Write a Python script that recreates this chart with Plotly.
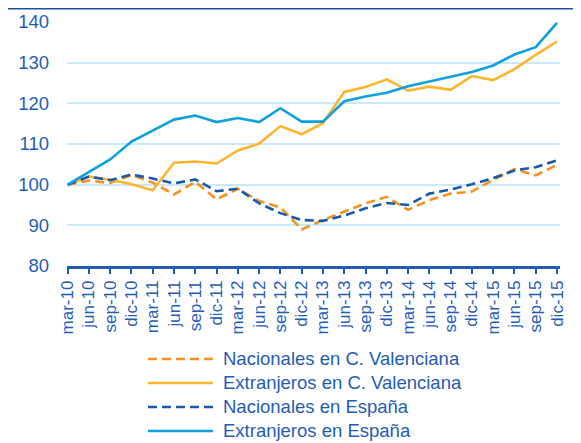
import plotly.graph_objects as go

years = ["10", "11", "12", "13", "14", "15"]
months = ["mar", "jun", "sep", "dic"]
periods = [f"{m}-{y}" for y in years for m in months]

nac_cv = [100, 101.0, 100.4, 102.4, 100.5, 97.6, 100.7, 96.4, 99.0, 96.0, 94.4, 89.0,
          91.3, 93.4, 95.4, 97.0, 93.8, 96.2, 97.8, 98.3, 101.2, 103.8, 102.3, 104.9]
ext_cv = [100, 102.0, 101.2, 100.1, 98.6, 105.4, 105.7, 105.2, 108.4, 110.1, 114.4, 112.4,
          115.1, 122.8, 124.0, 125.9, 123.1, 124.1, 123.3, 126.7, 125.7, 128.4, 131.9, 135.2]
nac_es = [100, 102.0, 101.1, 102.5, 101.5, 100.3, 101.3, 98.4, 99.0, 95.4, 93.0, 91.3,
          91.1, 92.4, 94.2, 95.5, 95.0, 97.8, 98.8, 100.1, 101.6, 103.5, 104.3, 106.0]
ext_es = [100, 103.1, 106.2, 110.6, 113.2, 116.0, 117.0, 115.4, 116.4, 115.4, 118.8, 115.5,
          115.5, 120.5, 121.7, 122.6, 124.2, 125.4, 126.6, 127.7, 129.3, 132.0, 133.8, 139.8]

series_names = ["Nacionales en C. Valenciana", "Extranjeros en C. Valenciana",
                "Nacionales en España", "Extranjeros en España"]
series_vals = [nac_cv, ext_cv, nac_es, ext_es]
series_colors = ["#F7901E", "#FDB52D", "#155AAD", "#0EA0DF"]
series_dash = ["9px,5px", "solid", "9px,5px", "solid"]

y_ticks = [80, 90, 100, 110, 120, 130, 140]

text_color = "#1F5CB8"
font_family = "Liberation Sans, Arial, sans-serif"

fig = go.Figure()
for name, vals, col, dash in zip(series_names, series_vals, series_colors, series_dash):
    fig.add_trace(go.Scatter(
        x=periods, y=vals, mode="lines", name=name,
        line=dict(color=col, width=2.6, dash=dash),
        showlegend=False,
    ))

fig.update_layout(
    width=573, height=435,
    margin=dict(l=59, r=21, t=14, b=177, autoexpand=False),
    paper_bgcolor="white", plot_bgcolor="white",
    font=dict(family=font_family, color=text_color, size=18),
    showlegend=False,
    xaxis=dict(
        type="category", categoryorder="array", categoryarray=periods,
        tickmode="array", tickvals=periods, ticktext=periods,
        range=[-0.03, 23.14], automargin=False,
        tickangle=-90, showgrid=False,
        showline=True, linecolor="#1F5CB8", linewidth=2.5,
        ticks="outside", ticklen=5, tickwidth=2, tickcolor="#1F5CB8",
        tickfont=dict(size=17, color=text_color),
        zeroline=False,
    ),
    yaxis=dict(
        range=[80, 140], tickvals=y_ticks, automargin=False,
        showgrid=True, gridcolor="#C9E8F8", gridwidth=1.5,
        showline=False, zeroline=False, ticks="",
        tickfont=dict(size=18.5, color=text_color),
        ticklabelstandoff=17,
    ),
)

# top rule
fig.add_shape(type="line", xref="paper", yref="paper",
              x0=-0.12, x1=1.05, y0=1.0574, y1=1.0574,
              line=dict(color="#1A4F9E", width=3))

# custom legend (long line samples as in the original)
leg_x0, leg_x1, leg_tx = 0.1643, 0.2961, 0.3124
leg_y0, leg_dy = -0.381, -0.0984
for i, (name, col, dash) in enumerate(zip(series_names, series_colors, series_dash)):
    yy = leg_y0 + i * leg_dy
    fig.add_shape(type="line", xref="paper", yref="paper",
                  x0=leg_x0, x1=leg_x1, y0=yy, y1=yy,
                  line=dict(color=col, width=2.6, dash=dash))
    fig.add_annotation(xref="paper", yref="paper", x=leg_tx, y=yy,
                       text=name, showarrow=False, xanchor="left", yanchor="middle",
                       font=dict(size=18.5, color=text_color))

fig.write_html("out.html")
